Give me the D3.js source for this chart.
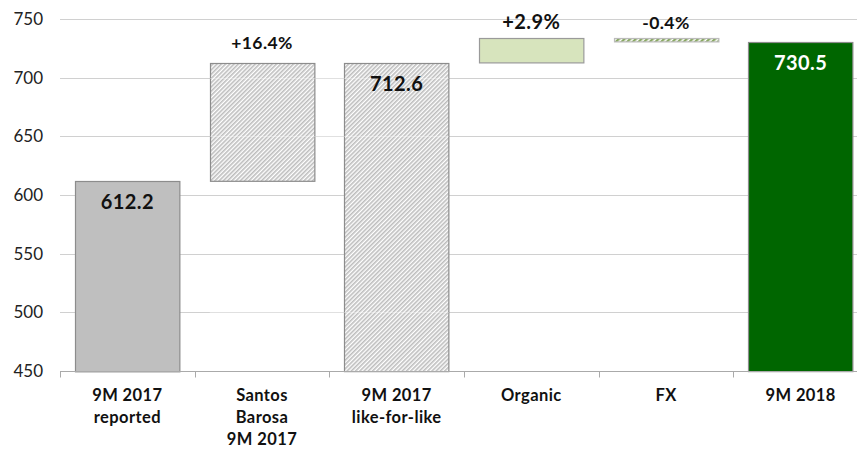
<!DOCTYPE html>
<html>
<head>
<meta charset="utf-8">
<script src="https://cdn.jsdelivr.net/npm/d3@7"></script>
<style>
  body { margin: 0; background: #fff; }
  svg { display: block; font-family: 'Lato', 'DejaVu Sans', sans-serif; }
</style>
</head>
<body>
<div class="chart"></div>
<script>
// data
const categories = [
  ['9M 2017', 'reported'],
  ['Santos', 'Barosa', '9M 2017'],
  ['9M 2017', 'like-for-like'],
  ['Organic'],
  ['FX'],
  ['9M 2018']
]
const barStart = [450, 612.2, 450, 712.6, 733.4, 450]
const barEnd = [612.2, 712.6, 712.6, 733.4, 730.5, 730.5]
const barLabels = ['612.2', '+16.4%', '712.6', '+2.9%', '-0.4%', '730.5']
const yTicks = [450, 500, 550, 600, 650, 700, 750]

const W = 857
const H = 452
const margin = { top: 19, right: -11, bottom: 80, left: 60 }

const svg = d3.select('.chart').append('svg')
  .attr('width', W)
  .attr('height', H)

const defs = svg.append('defs')
const hatch = defs.append('pattern')
  .attr('id', 'hatch')
  .attr('patternUnits', 'userSpaceOnUse')
  .attr('width', 3)
  .attr('height', 3)
  .attr('patternTransform', 'rotate(45)')
hatch.append('rect').attr('width', 3).attr('height', 3).attr('fill', '#fff')
hatch.append('rect').attr('width', 1.6).attr('height', 3).attr('fill', '#bdbdbd')

const hatchGreen = defs.append('pattern')
  .attr('id', 'hatch-green')
  .attr('patternUnits', 'userSpaceOnUse')
  .attr('width', 4)
  .attr('height', 4)
  .attr('patternTransform', 'rotate(45)')
hatchGreen.append('rect').attr('width', 4).attr('height', 4).attr('fill', '#fff')
hatchGreen.append('rect').attr('width', 2.4).attr('height', 4).attr('fill', '#8aa864')

const x = d3.scaleBand()
  .domain(d3.range(categories.length))
  .range([margin.left, W - margin.right])
  .paddingInner(0.225)
  .paddingOuter(0.1125)

const y = d3.scaleLinear()
  .domain([450, 750])
  .range([H - margin.bottom - 1, margin.top])

// grid
svg.append('g')
  .selectAll('line')
  .data(yTicks.slice(1))
  .join('line')
    .attr('x1', margin.left)
    .attr('x2', W)
    .attr('y1', d => Math.round(y(d)) + 0.5)
    .attr('y2', d => Math.round(y(d)) + 0.5)
    .attr('stroke', '#d0d0d0')
    .attr('stroke-width', 1.2)

// y axis labels
svg.append('g')
  .selectAll('text')
  .data(yTicks)
  .join('text')
    .attr('x', 43)
    .attr('y', d => y(d) + 6)
    .attr('text-anchor', 'end')
    .attr('font-size', 17)
    .attr('fill', '#222')
    .text(d => d)

const fills = ['#bfbfbf', 'url(#hatch)', 'url(#hatch)', '#d7e4bd', 'url(#hatch-green)', '#006600']
const strokes = ['#8c8c8c', '#8c8c8c', '#8c8c8c', '#9a9a9a', '#bbbbbb', '#8c8c8c']

svg.append('g')
  .selectAll('rect')
  .data(barEnd)
  .join('rect')
    .attr('x', (d, i) => Math.round(x(i)) + 0.5)
    .attr('y', (d, i) => Math.round(y(Math.max(d, barStart[i]))) + 0.5)
    .attr('width', x.bandwidth())
    .attr('height', (d, i) => Math.abs(y(barStart[i]) - y(d)))
    .attr('fill', (d, i) => fills[i])
    .attr('stroke', (d, i) => strokes[i])
    .attr('stroke-width', 1.2)

// faint gridlines through hatched bars
svg.append('g')
  .selectAll('line')
  .data([500, 650, 700])
  .join('line')
    .attr('x1', x(1))
    .attr('x2', x(2) + x.bandwidth())
    .attr('y1', d => Math.round(y(d)) + 0.5)
    .attr('y2', d => Math.round(y(d)) + 0.5)
    .attr('stroke', 'rgba(255,255,255,0.35)')

// x axis
const axisY = Math.round(y(450)) + 0.5
svg.append('line')
  .attr('x1', margin.left)
  .attr('x2', W)
  .attr('y1', axisY)
  .attr('y2', axisY)
  .attr('stroke', '#aaa')
  .attr('stroke-width', 1.2)

const step = x.step()
svg.append('g')
  .selectAll('line')
  .data(d3.range(categories.length))
  .join('line')
    .attr('x1', i => Math.round(x(i) - step * x.paddingInner() / 2) + 0.5)
    .attr('x2', i => Math.round(x(i) - step * x.paddingInner() / 2) + 0.5)
    .attr('y1', axisY)
    .attr('y2', axisY + 6)
    .attr('stroke', '#aaa')

const catText = svg.append('g')
  .selectAll('text')
  .data(categories)
  .join('text')
    .attr('text-anchor', 'middle')
    .attr('font-size', 16.5)
    .attr('letter-spacing', 0.4)
    .attr('font-weight', 'bold')
    .attr('fill', '#111')
    .attr('x', (d, i) => x(i) + x.bandwidth() / 2)
    .attr('y', 401)
catText.selectAll('tspan')
  .data(d => d)
  .join('tspan')
    .attr('x', function () { return d3.select(this.parentNode).attr('x') })
    .attr('dy', (d, i) => i === 0 ? 0 : 22)
    .text(d => d)

// value labels
const inside = [true, false, true, false, false, true]
const labelSize = [20, 17.5, 20, 20, 17.5, 20]
const labelGap = [0, 14, 0, 9, 9, 0]
svg.append('g')
  .selectAll('text')
  .data(barLabels)
  .join('text')
    .attr('text-anchor', 'middle')
    .attr('font-size', (d, i) => labelSize[i])
    .attr('letter-spacing', 0.4)
    .attr('font-weight', 'bold')
    .attr('fill', (d, i) => i === 5 ? '#fff' : '#111')
    .attr('x', (d, i) => x(i) + x.bandwidth() / 2)
    .attr('y', (d, i) => {
      const top = y(Math.max(barEnd[i], barStart[i]))
      return inside[i] ? top + 28 : top - labelGap[i]
    })
    .text(d => d)
</script>
</body>
</html>
